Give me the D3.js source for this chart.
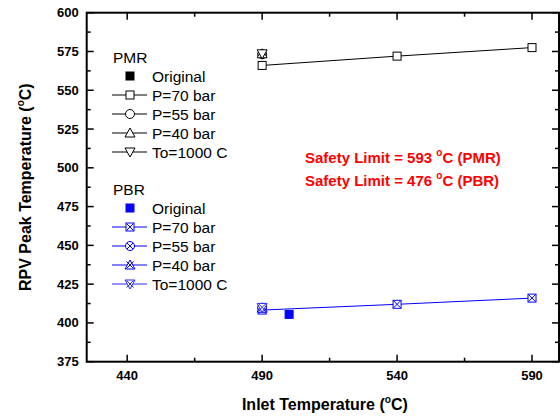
<!DOCTYPE html>
<html>
<head>
<meta charset="utf-8">
<script src="https://cdn.jsdelivr.net/npm/d3@7"></script>
<style>
  body { margin: 0; background: #fff; }
  svg { font-family: Arial, "Liberation Sans", sans-serif; }
</style>
</head>
<body>
<svg id="chart" width="560" height="419"></svg>
<script>
//  data
const xTicks = [440, 490, 540, 590];
const yTicks = [375, 400, 425, 450, 475, 500, 525, 550, 575, 600];

const pmrOriginal = { x: [], y: [] };
const pmrP70 = { x: [490, 540, 590], y: [566, 572, 577.5] };
const pmrP55 = { x: [490], y: [573.2] };
const pmrP40 = { x: [490], y: [573.5] };
const pmrTo1000 = { x: [490], y: [573.5] };

const pbrOriginal = { x: [500], y: [405.5] };
const pbrP70 = { x: [490, 540, 590], y: [408.3, 412, 416] };
const pbrP55 = { x: [490], y: [409.8] };
const pbrP40 = { x: [490], y: [409.5] };
const pbrTo1000 = { x: [490], y: [410] };

const safetyLabels = ["Safety Limit = 593 ", "Safety Limit = 476 "];
const safetyTags = [" (PMR)", " (PBR)"];

function draw_chart() {
  const margin = ({top: 12.7, right: 1, bottom: 57.3, left: 86.7});
  const w = 560, h = 419;
  const svg = d3.select("#chart");

  const x = d3.scaleLinear().domain([425, 600]).range([margin.left, w - margin.right]);
  const y = d3.scaleLinear().domain([375, 600]).range([h - margin.bottom, margin.top]);

  const x0 = x(425), x1 = x(600), y0 = y(375), y1 = y(600);

  //  ticks, all inward
  const xMinor = [465, 515, 565];
  const yMinor = d3.range(387.5, 600, 25);
  const g = svg.append("g").attr("stroke", "#000");
  xTicks.forEach(v => {
    g.append("line").attr("x1", x(v)).attr("x2", x(v)).attr("y1", y0).attr("y2", y0 - 7).attr("stroke-width", 1.5);
    g.append("line").attr("x1", x(v)).attr("x2", x(v)).attr("y1", y1).attr("y2", y1 + 7).attr("stroke-width", 1.5);
  });
  xMinor.forEach(v => {
    g.append("line").attr("x1", x(v)).attr("x2", x(v)).attr("y1", y0).attr("y2", y0 - 4).attr("stroke-width", 1.5);
    g.append("line").attr("x1", x(v)).attr("x2", x(v)).attr("y1", y1).attr("y2", y1 + 4).attr("stroke-width", 1.5);
  });
  yTicks.forEach(v => {
    g.append("line").attr("x1", x0).attr("x2", x0 + 7).attr("y1", y(v)).attr("y2", y(v)).attr("stroke-width", 1.5);
    g.append("line").attr("x1", x1).attr("x2", x1 - 7).attr("y1", y(v)).attr("y2", y(v)).attr("stroke-width", 1.5);
  });
  yMinor.forEach(v => {
    g.append("line").attr("x1", x0).attr("x2", x0 + 4).attr("y1", y(v)).attr("y2", y(v)).attr("stroke-width", 1.5);
    g.append("line").attr("x1", x1).attr("x2", x1 - 4).attr("y1", y(v)).attr("y2", y(v)).attr("stroke-width", 1.5);
  });

  //  frame
  svg.append("rect")
    .attr("x", x0).attr("y", y1)
    .attr("width", x1 - x0).attr("height", y0 - y1)
    .attr("fill", "none").attr("stroke", "#000").attr("stroke-width", 2);

  //  tick labels
  xTicks.forEach(v => {
    svg.append("text").attr("x", x(v)).attr("y", y0 + 18)
      .attr("text-anchor", "middle").style("font-size", "13px").style("font-weight", "bold")
      .text(v);
  });
  yTicks.forEach(v => {
    svg.append("text").attr("x", x0 - 8).attr("y", y(v) + 4.5)
      .attr("text-anchor", "end").style("font-size", "13px").style("font-weight", "bold")
      .text(v);
  });

  //  axis titles
  const xt = svg.append("text").attr("x", (x0 + x1) / 2 + 2).attr("y", 410)
    .attr("text-anchor", "middle").style("font-size", "16px").style("font-weight", "bold");
  xt.append("tspan").text("Inlet Temperature (");
  xt.append("tspan").attr("dy", -7).style("font-size", "10px").text("o");
  xt.append("tspan").attr("dy", 7).text("C)");

  const yt = svg.append("text").attr("transform", `translate(31,${(y0 + y1) / 2}) rotate(-90)`)
    .attr("text-anchor", "middle").style("font-size", "16px").style("font-weight", "bold");
  yt.append("tspan").text("RPV Peak Temperature (");
  yt.append("tspan").attr("dy", -7).style("font-size", "10px").text("o");
  yt.append("tspan").attr("dy", 7).text("C)");

  //  marker shapes
  function marker(sel, type, cx, cy, color) {
    const s = 4;
    const m = sel.append("g").attr("transform", `translate(${cx},${cy})`)
      .attr("stroke", color).attr("stroke-width", 1).attr("fill", "#fff");
    if (type == "fsquare") {
      m.append("rect").attr("x", -s).attr("y", -s).attr("width", 2 * s).attr("height", 2 * s).attr("fill", color);
      return;
    }
    if (type.startsWith("square"))
      m.append("rect").attr("x", -s).attr("y", -s).attr("width", 2 * s).attr("height", 2 * s);
    if (type.startsWith("circle"))
      m.append("circle").attr("r", s + 0.5);
    if (type.startsWith("up"))
      m.append("path").attr("d", `M0,${-s - 1}L${s + 1},${s}L${-s - 1},${s}Z`);
    if (type.startsWith("down"))
      m.append("path").attr("d", `M0,${s + 1}L${s + 1},${-s}L${-s - 1},${-s}Z`);
    if (type.endsWith("X")) {
      const k = type.startsWith("circle") ? 3 : 3.5;
      m.append("path").attr("fill", "none").attr("d", `M${-k},${-k}L${k},${k}M${k},${-k}L${-k},${k}`);
    }
  }

  //  series
  const series = [
    { d: pmrOriginal, type: "fsquare", color: "#000", line: false },
    { d: pmrP70, type: "square", color: "#000", line: true },
    { d: pmrP55, type: "circle", color: "#000", line: true },
    { d: pmrP40, type: "up", color: "#000", line: true },
    { d: pmrTo1000, type: "down", color: "#000", line: true },
    { d: pbrOriginal, type: "fsquare", color: "#0000ff", line: false },
    { d: pbrP70, type: "squareX", color: "#0000ff", line: true },
    { d: pbrP55, type: "circleX", color: "#0000ff", line: true },
    { d: pbrP40, type: "upX", color: "#0000ff", line: true },
    { d: pbrTo1000, type: "downX", color: "#2a2aff", line: true }
  ];

  const lineGen = d3.line().x(p => x(p[0])).y(p => y(p[1]));
  series.forEach(s => {
    const pts = s.d.x.map((v, i) => [v, s.d.y[i]]);
    if (s.line && pts.length > 1)
      svg.append("path").attr("d", lineGen(pts)).attr("fill", "none")
        .attr("stroke", s.color).attr("stroke-width", 1);
    pts.forEach(p => marker(svg, s.type, x(p[0]), y(p[1]), s.color));
  });

  //  legend
  const legX = 112, legRowH = 19;
  const groups = [
    { title: "PMR", top: 57, items: series.slice(0, 5) },
    { title: "PBR", top: 189, items: series.slice(5, 10) }
  ];
  const names = ["Original", "P=70 bar", "P=55 bar", "P=40 bar", "To=1000 C"];
  groups.forEach(gr => {
    svg.append("text").attr("x", legX + 1).attr("y", gr.top + 5.5)
      .style("font-size", "15.5px").text(gr.title);
    gr.items.forEach((s, i) => {
      const cy = gr.top + 19 + i * legRowH;
      if (s.line)
        svg.append("line").attr("x1", legX).attr("x2", legX + 35).attr("y1", cy).attr("y2", cy)
          .attr("stroke", s.color).attr("stroke-width", 1);
      marker(svg, s.type, legX + 18, cy, s.color);
      svg.append("text").attr("x", legX + 40).attr("y", cy + 5.5)
        .style("font-size", "15.5px").text(names[i]);
    });
  });

  //  safety limits
  safetyLabels.forEach((t, i) => {
    const st = svg.append("text").attr("x", 305).attr("y", 163 + i * 22.5)
      .style("font-size", "15px").style("font-weight", "bold").attr("fill", "#ff0000");
    st.append("tspan").text(t);
    st.append("tspan").attr("dy", -7).style("font-size", "10px").text("o");
    st.append("tspan").attr("dy", 7).text("C" + safetyTags[i]);
  });
}

draw_chart();
</script>
</body>
</html>
